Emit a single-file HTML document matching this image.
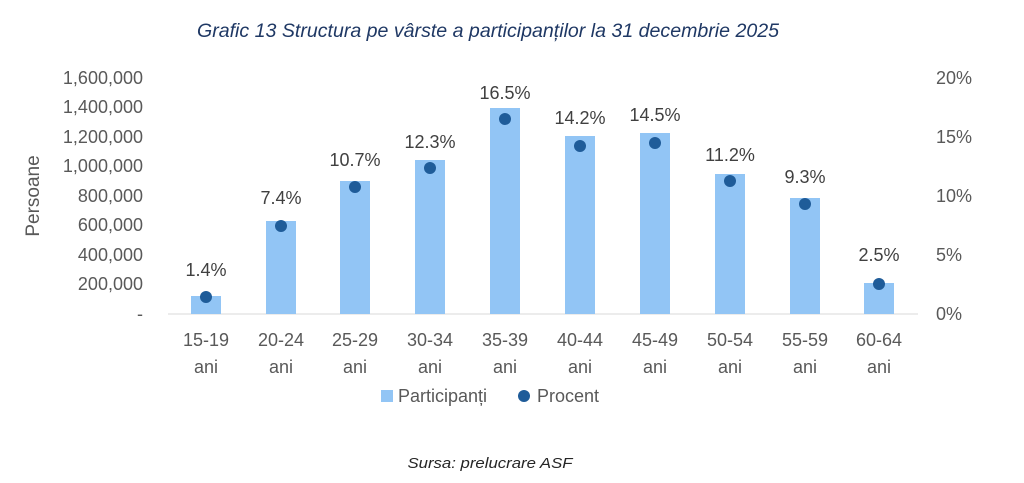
<!DOCTYPE html>
<html><head><meta charset="utf-8"><style>
body{margin:0;background:#fff}
svg{display:block;font-family:"Liberation Sans",sans-serif}
</style></head><body>
<svg width="1024" height="483" viewBox="0 0 1024 483">
<text x="488" y="37" text-anchor="middle" font-size="19" font-style="italic" fill="#1f3864" textLength="582" lengthAdjust="spacingAndGlyphs">Grafic 13 Structura pe vârste a participanților la 31 decembrie 2025</text>
<g font-size="18" fill="#595959" text-anchor="end">
<text x="143" y="84">1,600,000</text>
<text x="143" y="113">1,400,000</text>
<text x="143" y="143">1,200,000</text>
<text x="143" y="172">1,000,000</text>
<text x="143" y="202">800,000</text>
<text x="143" y="231">600,000</text>
<text x="143" y="261">400,000</text>
<text x="143" y="290">200,000</text>
<text x="143" y="320">-</text>
</g>
<g font-size="18" fill="#595959" text-anchor="start">
<text x="936" y="84">20%</text>
<text x="936" y="143">15%</text>
<text x="936" y="202">10%</text>
<text x="936" y="261">5%</text>
<text x="936" y="320">0%</text>
</g>
<text transform="translate(39,196) rotate(-90)" text-anchor="middle" font-size="19" fill="#595959">Persoane</text>
<line x1="168" y1="314" x2="918" y2="314" stroke="#d9d9d9" stroke-width="1"/>
<g fill="#92c5f5">
<rect x="191" y="296" width="30" height="18"/>
<rect x="266" y="221" width="30" height="93"/>
<rect x="340" y="181" width="30" height="133"/>
<rect x="415" y="160" width="30" height="154"/>
<rect x="490" y="108" width="30" height="206"/>
<rect x="565" y="136" width="30" height="178"/>
<rect x="640" y="133" width="30" height="181"/>
<rect x="715" y="174" width="30" height="140"/>
<rect x="790" y="198" width="30" height="116"/>
<rect x="864" y="283" width="30" height="31"/>
</g>
<g fill="#1f5c99">
<circle cx="206" cy="297" r="6"/>
<circle cx="281" cy="226" r="6"/>
<circle cx="355" cy="187" r="6"/>
<circle cx="430" cy="168" r="6"/>
<circle cx="505" cy="119" r="6"/>
<circle cx="580" cy="146" r="6"/>
<circle cx="655" cy="143" r="6"/>
<circle cx="730" cy="181" r="6"/>
<circle cx="805" cy="204" r="6"/>
<circle cx="879" cy="284" r="6"/>
</g>
<g font-size="18" fill="#404040" text-anchor="middle">
<text x="206" y="276">1.4%</text>
<text x="281" y="204">7.4%</text>
<text x="355" y="166">10.7%</text>
<text x="430" y="148">12.3%</text>
<text x="505" y="99">16.5%</text>
<text x="580" y="124">14.2%</text>
<text x="655" y="121">14.5%</text>
<text x="730" y="161">11.2%</text>
<text x="805" y="183">9.3%</text>
<text x="879" y="261">2.5%</text>
</g>
<g font-size="18" fill="#595959" text-anchor="middle">
<text x="206" y="346">15-19</text><text x="206" y="373">ani</text>
<text x="281" y="346">20-24</text><text x="281" y="373">ani</text>
<text x="355" y="346">25-29</text><text x="355" y="373">ani</text>
<text x="430" y="346">30-34</text><text x="430" y="373">ani</text>
<text x="505" y="346">35-39</text><text x="505" y="373">ani</text>
<text x="580" y="346">40-44</text><text x="580" y="373">ani</text>
<text x="655" y="346">45-49</text><text x="655" y="373">ani</text>
<text x="730" y="346">50-54</text><text x="730" y="373">ani</text>
<text x="805" y="346">55-59</text><text x="805" y="373">ani</text>
<text x="879" y="346">60-64</text><text x="879" y="373">ani</text>
</g>
<rect x="381" y="390" width="12" height="12" fill="#92c5f5"/>
<text x="398" y="402" font-size="18" fill="#595959">Participanți</text>
<circle cx="524" cy="396" r="6" fill="#1f5c99"/>
<text x="537" y="402" font-size="18" fill="#595959">Procent</text>
<text x="490" y="468" text-anchor="middle" font-size="15" font-style="italic" fill="#262626" textLength="165" lengthAdjust="spacingAndGlyphs">Sursa: prelucrare ASF</text>
</svg>
</body></html>
